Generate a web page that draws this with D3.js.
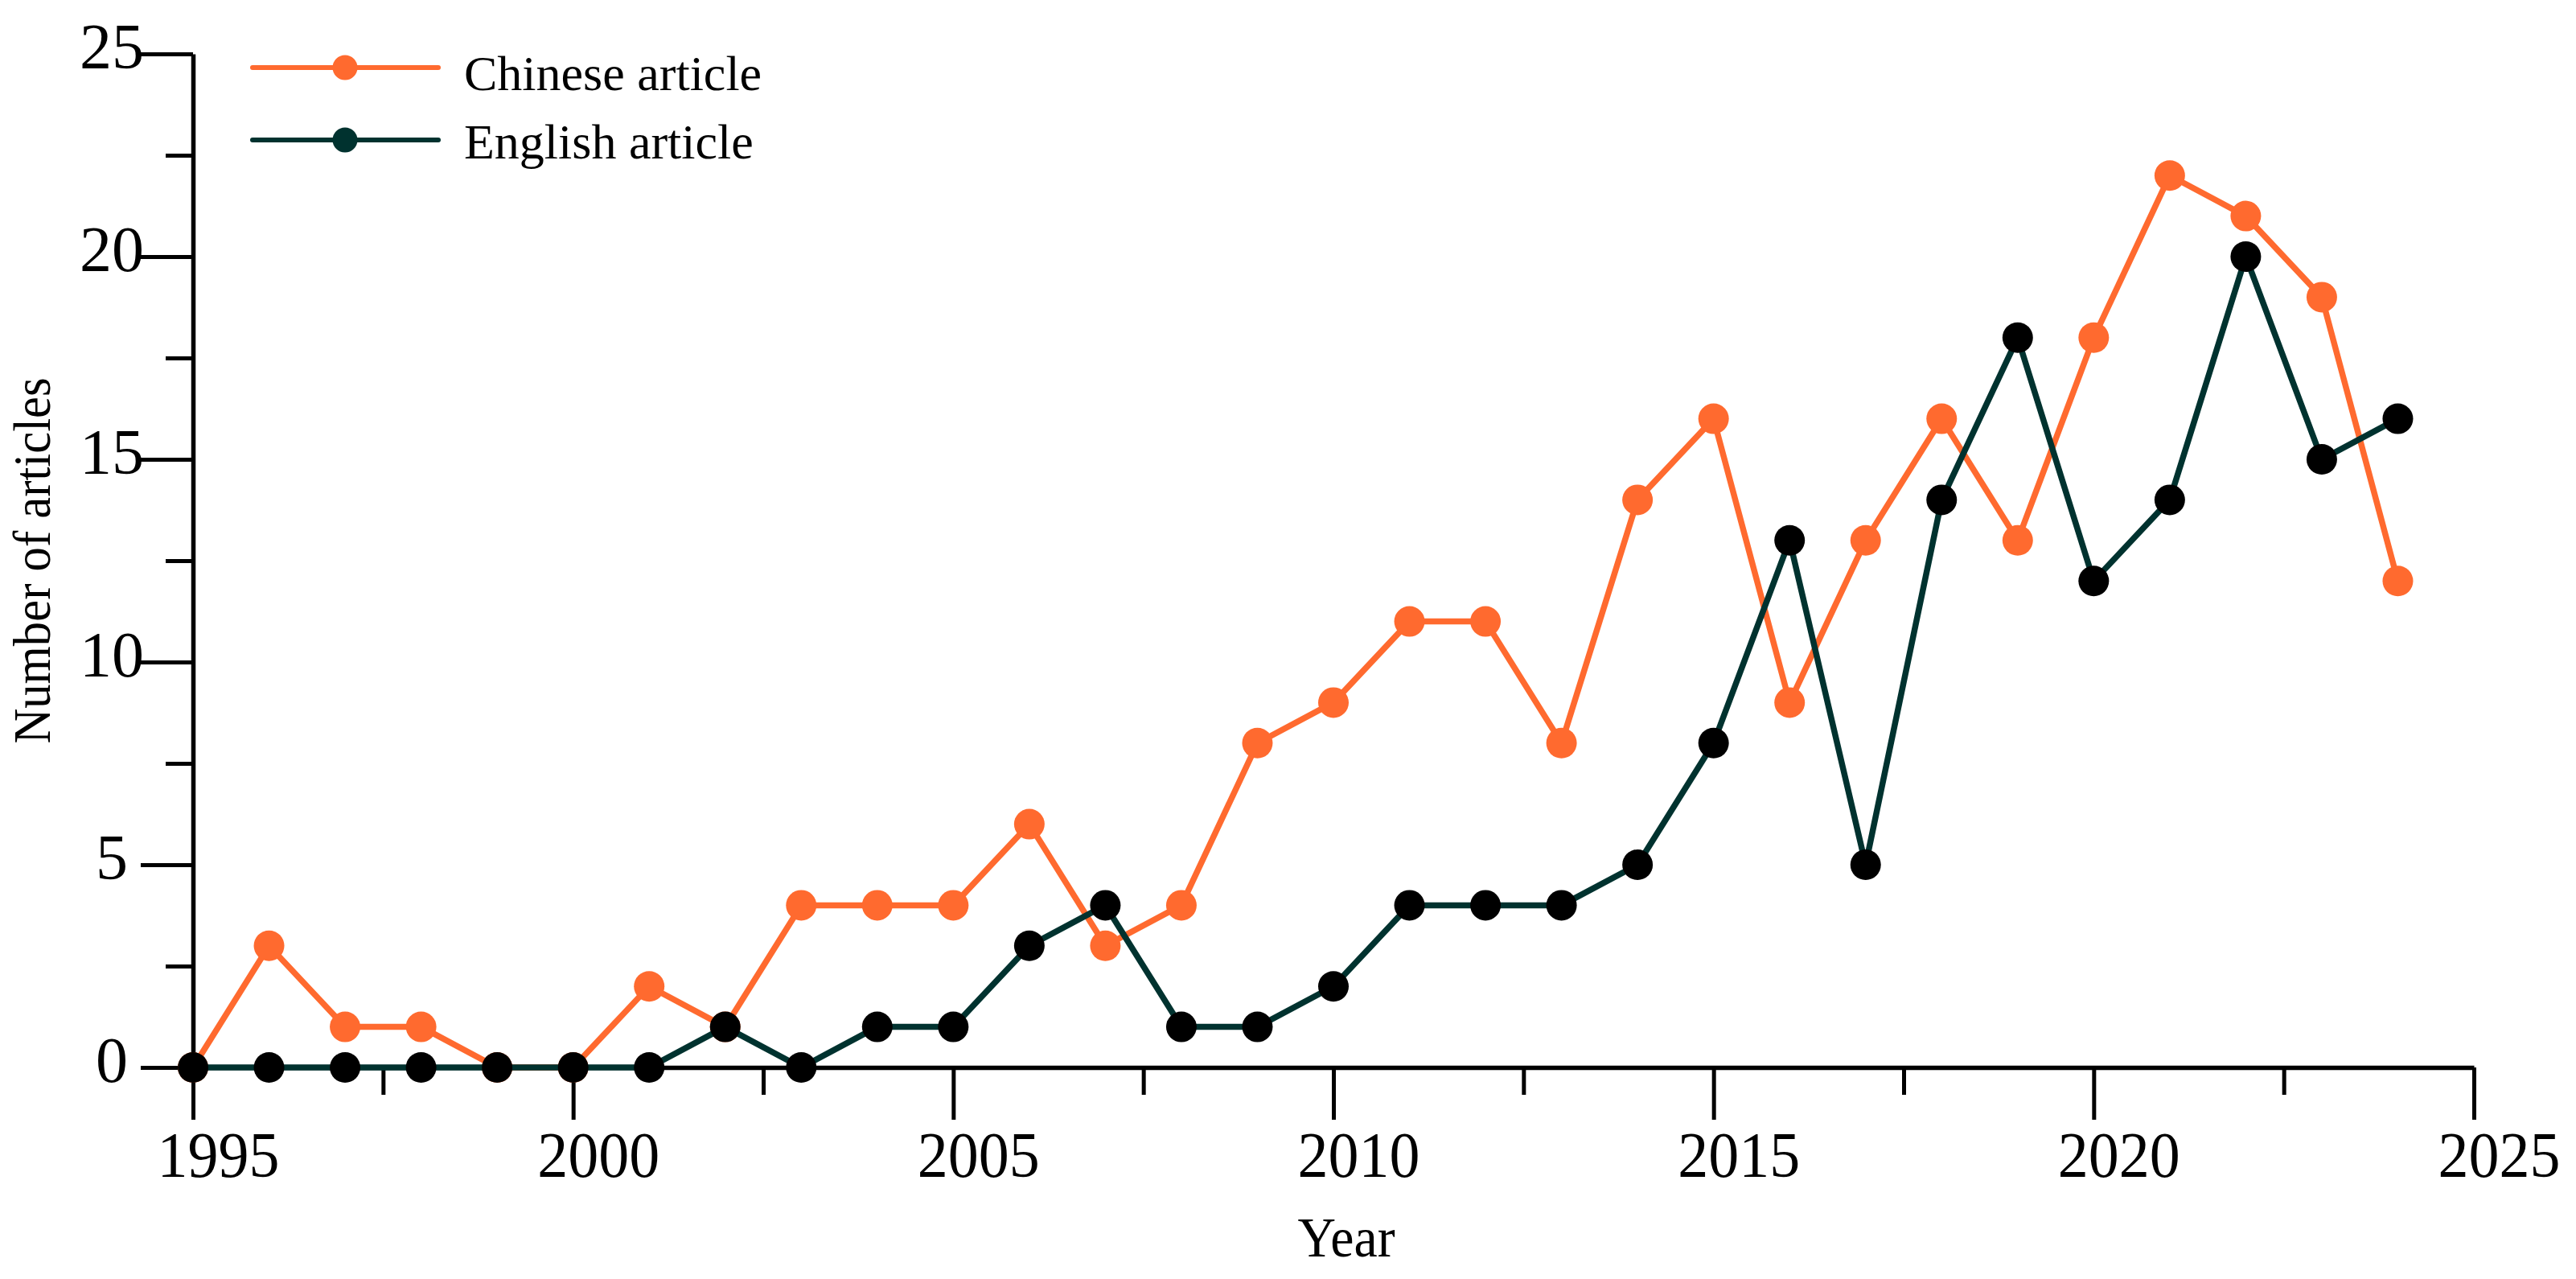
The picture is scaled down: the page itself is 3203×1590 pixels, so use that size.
<!DOCTYPE html>
<html>
<head>
<meta charset="utf-8">
<script src="https://d3js.org/d3.v7.min.js"></script>
<style>
  html, body { margin: 0; padding: 0; background: #fff; }
  svg { display: block; }
  text { font-family: "Liberation Serif", "Times New Roman", serif; fill: #000; }
</style>
</head>
<body>
<div id="chart"></div>
<script>
// data
const years = d3.range(1995, 2025); // 1995..2024
const chinese = [0, 3, 1, 1, 0, 0, 2, 1, 4, 4, 4, 6, 3, 4, 8, 9, 11, 11, 8, 14, 16, 9, 13, 16, 13, 18, 22, 21, 19, 12];
const english = [0, 0, 0, 0, 0, 0, 0, 1, 0, 1, 1, 3, 4, 1, 1, 2, 4, 4, 4, 5, 8, 13, 5, 14, 18, 12, 14, 20, 15, 16];
const seriesNames = ["Chinese article", "English article"];
const xTicks = [1995, 2000, 2005, 2010, 2015, 2020, 2025];
const xMinor = [1997.5, 2002.5, 2007.5, 2012.5, 2017.5, 2022.5];
const yTicks = [0, 5, 10, 15, 20, 25];
const yMinor = [2.5, 7.5, 12.5, 17.5, 22.5];

const orange = "#ff6a2f";
const teal = "#00322f";

const width = 3203, height = 1590;

const x = d3.scaleLinear().domain([1995, 2025]).range([240, 3076]);
const y = d3.scaleLinear().domain([0, 25]).range([1327, 67]);

const svg = d3.select("#chart").append("svg")
  .attr("width", width)
  .attr("height", height);

// x axis: major + minor ticks
const xAxis = svg.append("g")
  .attr("transform", `translate(0,${y(0)})`)
  .call(d3.axisBottom(x).tickValues(xTicks).tickSize(65).tickSizeOuter(0).tickFormat(d3.format("d")));
xAxis.select(".domain").attr("stroke-width", 5.5);
xAxis.selectAll(".tick line").attr("stroke-width", 5);
xAxis.selectAll(".tick text")
  .attr("y", 136).attr("dy", 0)
  .attr("transform", "translate(31,0) scale(0.95,1)")
  .style("font-size", "80px");

svg.append("g")
  .attr("transform", `translate(0,${y(0)})`)
  .call(d3.axisBottom(x).tickValues(xMinor).tickSize(34).tickFormat(""))
  .call(g => g.select(".domain").remove())
  .selectAll(".tick line").attr("stroke-width", 5);

// y axis
const yAxis = svg.append("g")
  .attr("transform", `translate(${x(1995)},0)`)
  .call(d3.axisLeft(y).tickValues(yTicks).tickSize(65).tickSizeOuter(0));
yAxis.select(".domain").attr("stroke-width", 5.5);
yAxis.selectAll(".tick line").attr("stroke-width", 5);
yAxis.selectAll(".tick text")
  .attr("x", 0).attr("dy", 0).attr("y", 17)
  .attr("text-anchor", "middle")
  .attr("transform", "translate(-101,0)")
  .style("font-size", "80px");

svg.append("g")
  .attr("transform", `translate(${x(1995)},0)`)
  .call(d3.axisLeft(y).tickValues(yMinor).tickSize(34).tickFormat(""))
  .call(g => g.select(".domain").remove())
  .selectAll(".tick line").attr("stroke-width", 5);

// axis titles
svg.append("text")
  .attr("transform", "translate(1674,1562) scale(0.94,1)")
  .attr("text-anchor", "middle")
  .style("font-size", "70px")
  .text("Year");

svg.append("text")
  .attr("transform", "translate(62,697) rotate(-90) scale(0.92,1)")
  .attr("text-anchor", "middle")
  .style("font-size", "66px")
  .text("Number of articles");

// series
const line = d3.line().x((d, i) => x(years[i])).y(d => y(d));

function drawSeries(values, stroke, dotFill) {
  svg.append("path")
    .datum(values)
    .attr("fill", "none")
    .attr("stroke", stroke)
    .attr("stroke-width", 7.5)
    .attr("stroke-linejoin", "round")
    .attr("d", line);
  svg.append("g")
    .selectAll("circle")
    .data(values)
    .join("circle")
    .attr("cx", (d, i) => x(years[i]))
    .attr("cy", d => y(d))
    .attr("r", 19)
    .attr("fill", dotFill);
}

drawSeries(chinese, orange, orange);
drawSeries(english, teal, "#000");

// legend
const legend = svg.append("g");
const legendItems = [
  { name: seriesNames[0], color: orange, marker: orange, ly: 84, ty: 112 },
  { name: seriesNames[1], color: teal, marker: teal, ly: 174, ty: 197 }
];
legendItems.forEach(it => {
  legend.append("line")
    .attr("x1", 314).attr("x2", 545)
    .attr("y1", it.ly).attr("y2", it.ly)
    .attr("stroke", it.color).attr("stroke-width", 6)
    .attr("stroke-linecap", "round");
  legend.append("circle")
    .attr("cx", 429).attr("cy", it.ly)
    .attr("r", 15.5)
    .attr("fill", it.marker);
  legend.append("text")
    .attr("x", 577).attr("y", it.ty)
    .style("font-size", "62px")
    .text(it.name);
});
</script>
</body>
</html>
